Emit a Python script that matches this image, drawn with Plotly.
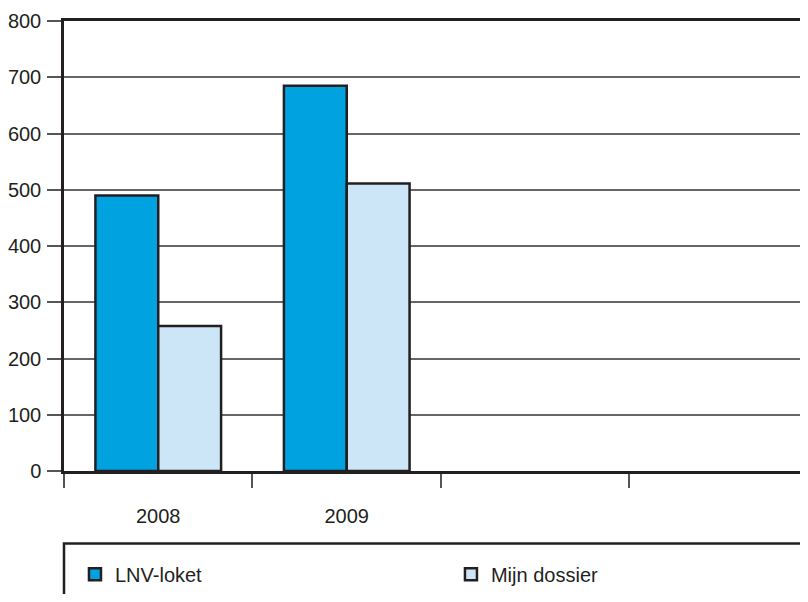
import plotly.graph_objects as go

categories = ["2008", "2009", " ", "  "]
years = ["2008", "2009"]
lnv_loket = [490, 685]
mijn_dossier = [258, 511]

# page body has an 8px margin: figure coordinates = window coordinates - 8
W, H = 800, 586
L, R, T = 54, 0, 13
AXIS_Y = 466
B = H - AXIS_Y
plot_w = W - L - R
plot_h = H - T - B

def px_x(p):
    return (p - L) / plot_w

def px_y(p):
    return (AXIS_Y - p) / plot_h

FONT = "Liberation Sans, Arial, sans-serif"
INK = "#231F20"

fig = go.Figure()
fig.add_trace(go.Bar(x=years, y=lnv_loket, name="LNV-loket", legend="legend",
                     marker=dict(color="#00A3E0", line=dict(color=INK, width=2.5))))
fig.add_trace(go.Bar(x=years, y=mijn_dossier, name="Mijn dossier", legend="legend2",
                     marker=dict(color="#CCE6F8", line=dict(color=INK, width=2.5))))

leg_common = dict(orientation="h", yanchor="middle", xanchor="left",
                  bgcolor="rgba(0,0,0,0)", font=dict(size=20, family=FONT, color=INK))

fig.update_layout(
    width=W, height=H,
    margin=dict(l=L, r=R, t=T, b=B, pad=0),
    paper_bgcolor="white", plot_bgcolor="white",
    font=dict(family=FONT, size=20, color=INK),
    barmode="group", bargap=1/3, bargroupgap=0,
    showlegend=True,
    legend=dict(x=px_x(65), y=px_y(570), **leg_common),
    legend2=dict(x=px_x(442), y=px_y(570), **leg_common),
    xaxis=dict(type="category", categoryorder="array", categoryarray=categories,
               range=[-0.5, -0.5 + plot_w / 189.0],
               showline=True, linecolor=INK, linewidth=2.5, mirror=True,
               ticks="outside", tickson="boundaries", ticklen=14, tickwidth=1.5, tickcolor="#555",
               ticklabelstandoff=25,
               showgrid=False, fixedrange=True),
    yaxis=dict(range=[0, 800], tickvals=[0, 100, 200, 300, 400, 500, 600, 700, 800],
               showline=True, linecolor=INK, linewidth=2.5,
               ticks="outside", ticklen=14, tickwidth=1.5, tickcolor="#555",
               showgrid=True, gridcolor="#666", gridwidth=1.5, zeroline=False,
               ticklabelstandoff=2),
    shapes=[dict(type="rect", xref="paper", yref="paper",
                 x0=0, x1=1.2, y0=px_y(539), y1=px_y(640),
                 line=dict(color=INK, width=2.5), fillcolor="rgba(0,0,0,0)")],
)

fig.write_html("out.html")
